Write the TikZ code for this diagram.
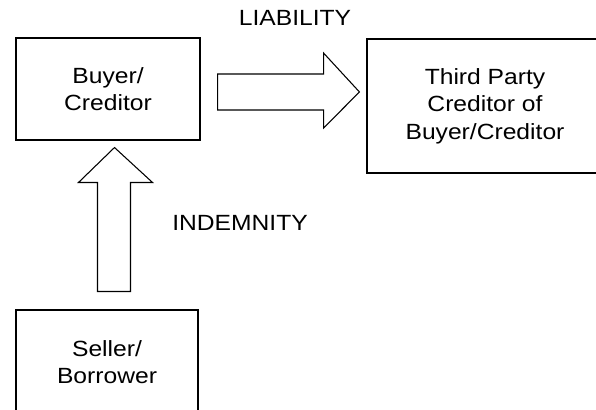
\documentclass[tikz,border=0pt]{standalone}
\usepackage{fontspec}
\setmainfont{Liberation Sans}[FakeStretch=1.12]
\usetikzlibrary{calc}

\tikzset{
  party/.style={draw, line width=0.8pt, inner sep=0pt, align=center,
    font=\fontsize{16.5}{20.5}\selectfont},
  blockarrow/.style={draw, line width=0.8pt, fill=white, line join=miter},
  tag/.style={font=\fontsize{16.5}{20.5}\selectfont, inner sep=0pt}
}

\begin{document}
\begin{tikzpicture}[x=0.75pt, y=-0.75pt]

\useasboundingbox (0,0) rectangle (596,410);
\clip (0,0) rectangle (596,410);

%Party boxes

\node [party, minimum width=138pt, minimum height=76.5pt] (buyer) at (108,89) {Buyer/\\Creditor};
\node [party, minimum width=177pt, minimum height=100.5pt] (third) at (485,106) {Third Party\\Creditor of\\Buyer/Creditor};
\node [party, minimum width=136.5pt, minimum height=78pt] (seller) at (107,362) {Seller/\\Borrower};

%Block arrows

\draw [blockarrow] ($(buyer.east)+(17,-15)$) -- ++(106,0) -- ++(0,-21) -- ($(third.west)+(-7,-14)$)
  -- ($(buyer.east)+(123,39)$) -- ++(0,-18) -- ++(-106,0) -- cycle;
\draw [blockarrow] ($(seller.north)+(-9.5,-18)$) -- ++(0,-109) -- ++(-19,0) -- ($(buyer.south)+(6.5,7)$)
  -- ($(seller.north)+(45.5,-127)$) -- ++(-22,0) -- ++(0,109) -- cycle;

%Arrow labels

\node [tag] (liability) at (295,18) {LIABILITY};
\node [tag, anchor=west] (indemnity) at (172,223) {INDEMNITY};

\end{tikzpicture}
\end{document}
